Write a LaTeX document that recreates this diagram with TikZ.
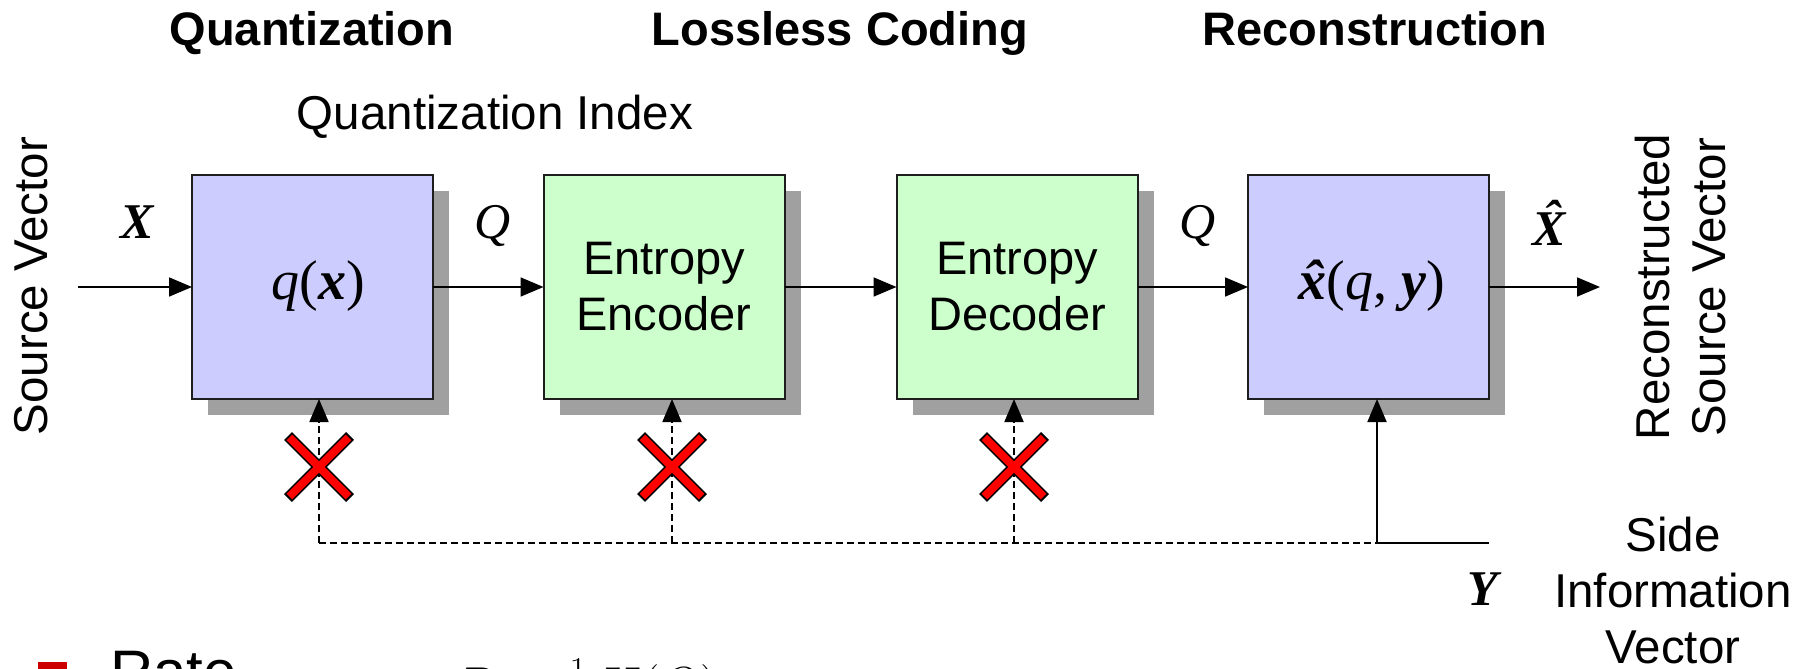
\RequirePackage{fix-cm}
\documentclass[tikz,border=0pt]{standalone}
\usepackage{fontspec}
\setmainfont{Liberation Sans}
\newfontfamily\tms{Liberation Serif}
\usetikzlibrary{arrows.meta,shadows}

\definecolor{qblue}{RGB}{204,204,255}
\definecolor{cgreen}{RGB}{204,255,204}
\definecolor{shade}{RGB}{160,160,160}
\definecolor{edge}{RGB}{30,30,30}
\definecolor{xred}{RGB}{255,0,0}
\definecolor{bulletred}{RGB}{204,0,0}

\tikzset{
  nogo/.pic={
    \draw[line width=11pt, black] (-31,-31) -- (31,31) (-31,31) -- (31,-31);
    \draw[line width=8pt, xred] (-29.6,-29.6) -- (29.6,29.6) (-29.6,29.6) -- (29.6,-29.6);
  }
}

\begin{document}
\begin{tikzpicture}[x=1pt,y=-1pt,
  every node/.style={inner sep=0pt,outer sep=0pt},
  lbl/.style={font=\fontsize{47.5}{56}\selectfont},
  head/.style={font=\fontsize{47}{56}\selectfont\bfseries},
  mathlbl/.style={font=\tms\fontsize{50}{56}\selectfont},
  boxmath/.style={font=\tms\fontsize{56}{60}\selectfont},
  stage/.style={draw=edge, line width=2pt, minimum width=241pt, minimum height=224pt,
    align=center, font=\fontsize{47}{56}\selectfont,
    general shadow={fill=shade, shadow xshift=16pt, shadow yshift=-16pt}},
  quant/.style={stage, fill=qblue},
  coder/.style={stage, fill=cgreen},
  flow/.style={line width=1.8pt, -{Triangle[length=23pt,width=19pt]}},
  side/.style={line width=1.8pt, dash pattern=on 7pt off 4pt},
]
\useasboundingbox (0,0) rectangle (1800,669);
\clip (0,0) rectangle (1800,669);
\fill[white] (0,0) rectangle (1800,669);

% section headings
\node[head, anchor=base] (h1) at (312,46) {Quantization};
\node[head, anchor=base] (h2) at (840,46) {Lossless Coding};
\node[head, anchor=base] (h3) at (1375,46) {Reconstruction};
\node[lbl, anchor=base] (qi) at (495,129) {Quantization Index};

% processing stages
\node[quant] (b1) at (312.5,287) {};
\node[coder] (b2) at (664,287) {Entropy\\Encoder};
\node[coder] (b3) at (1017,287) {Entropy\\Decoder};
\node[quant] (b4) at (1368.5,287) {};
\node[boxmath, anchor=base] (f1) at (318,299)
  {\itshape q\upshape(\bfseries\itshape x\mdseries\upshape)};
\node[boxmath, anchor=base] (f4) at (1372,299)
  {\bfseries\itshape\accent"02C6 x\mdseries\upshape(\itshape q\upshape,\ \bfseries\itshape y\mdseries\upshape)};

% main signal path
\coordinate (src) at (78,287);
\coordinate (dst) at (1600,287);
\draw[flow] (src) -- (b1.west);
\draw[flow] (b1.east) -- (b2.west);
\draw[flow] (b2.east) -- (b3.west);
\draw[flow] (b3.east) -- (b4.west);
\draw[flow] (b4.east) -- (dst);

% signal labels
\node[mathlbl, anchor=base] (lx) at (137,238) {\bfseries\itshape X};
\node[mathlbl, anchor=base] (lq1) at (493,238) {\itshape Q};
\node[mathlbl, anchor=base] (lq2) at (1198,238) {\itshape Q};
\node[mathlbl, anchor=base] (lxh) at (1549,245) {\bfseries\itshape\accent"02C6 X};
\node[mathlbl, anchor=base] (ly) at (1483,605) {\bfseries\itshape Y};

% side information distribution
\coordinate (j1) at (319,543);
\coordinate (j2) at (672,543);
\coordinate (j3) at (1014,543);
\coordinate (j4) at (1377,543);
\coordinate (yin) at (1489,543);
\draw[side] (j1) -- (j4);
\draw[flow, side] (j1) -- (j1 |- b1.south);
\draw[flow, side] (j2) -- (j2 |- b2.south);
\draw[flow, side] (j3) -- (j3 |- b3.south);
\draw[flow] (j4) -- (j4 |- b4.south);
\draw[line width=1.8pt] (yin) -- (j4);

% blocked side-information inputs
\pic at (319,467) {nogo};
\pic at (672,467) {nogo};
\pic at (1014,467) {nogo};

% end labels
\node[lbl, rotate=90, anchor=base] (sv) at (47,286) {Source Vector};
\node[lbl, rotate=90, align=center] (rsv) at (1681,287) {Reconstructed\\Source Vector};
\node[lbl, align=center, anchor=north] (siv) at (1673,517) {Side\\Information\\Vector};

% rate line
\fill[bulletred] (38,662) rectangle (67,691);
\node[anchor=base west, font=\fontsize{60}{70}\selectfont] (rate) at (110,692) {Rate};
\node[anchor=base west, font=\fontsize{52}{60}\selectfont] (rf) at (455,703) {$R=\frac{1}{N}H(Q)$};
\end{tikzpicture}
\end{document}
